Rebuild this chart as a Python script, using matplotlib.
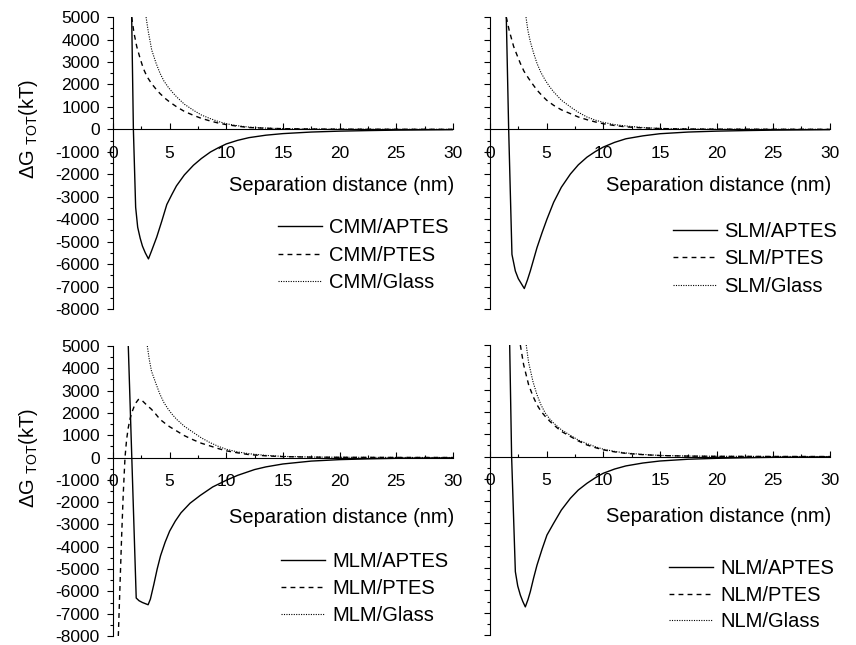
import numpy as np
import matplotlib
matplotlib.use("Agg")
import matplotlib.pyplot as plt
from matplotlib.ticker import MultipleLocator

plt.rcParams['font.family'] = ['Liberation Sans', 'DejaVu Sans']
plt.rcParams['axes.unicode_minus'] = False

# values: separation distance (nm) and total energy (kT)
cmm_aptes_d = [1.65, 1.8, 2.0, 2.18, 2.4, 2.6, 2.85, 3.13, 3.4, 3.86, 4.3, 4.75, 5.2, 5.6, 6.3, 7.1, 7.8, 8.6, 9.3, 10, 11, 12, 13.5, 15, 17.5, 20, 22.5, 25, 30]
cmm_aptes_g = [5000, 0, -3470, -4360, -4850, -5200, -5500, -5770, -5420, -4800, -4100, -3350, -2900, -2520, -2030, -1600, -1300, -1010, -820, -650, -490, -370, -260, -190, -120, -80, -55, -35, -15]
cmm_ptes_d = [1.65, 1.85, 2.1, 2.4, 2.68, 3.0, 3.4, 3.8, 4.16, 4.6, 5.0, 5.63, 6.3, 7.1, 7.8, 8.6, 9.3, 10, 11, 12, 13.5, 15, 17.5, 20, 25, 30]
cmm_ptes_g = [5000, 4300, 3680, 3150, 2710, 2350, 2040, 1790, 1590, 1380, 1220, 1000, 800, 625, 490, 370, 280, 210, 140, 80, 50, 30, 15, 8, 3, 1]
cmm_glass_d = [2.92, 3.1, 3.42, 3.8, 4.16, 4.5, 4.9, 5.3, 5.63, 6.3, 7.1, 7.8, 8.6, 9.3, 10, 11, 12, 13.5, 15, 17.5, 20, 25, 30]
cmm_glass_g = [5000, 4400, 3530, 2950, 2490, 2150, 1860, 1620, 1440, 1120, 850, 640, 475, 350, 250, 160, 100, 55, 30, 15, 8, 3, 1]

slm_aptes_d = [1.44, 1.65, 1.94, 2.24, 2.5, 2.8, 3.03, 3.3, 3.56, 3.85, 4.15, 4.6, 5.03, 5.62, 6.3, 7.1, 7.8, 8.56, 9.3, 10, 11, 12, 13.5, 15, 17.5, 20, 22.5, 25, 30]
slm_aptes_g = [5000, 0, -5570, -6310, -6650, -6900, -7090, -6720, -6310, -5800, -5270, -4600, -4000, -3250, -2580, -1990, -1580, -1240, -990, -790, -580, -420, -290, -195, -120, -80, -55, -35, -15]
slm_ptes_d = [1.44, 1.7, 2.09, 2.4, 2.68, 3.0, 3.41, 3.8, 4.15, 4.6, 5.0, 5.62, 6.3, 7.1, 7.8, 8.56, 9.3, 10, 11, 12, 13.5, 15, 17.5, 20, 25, 30]
slm_ptes_g = [5000, 4400, 3690, 3290, 2940, 2590, 2270, 1990, 1750, 1500, 1300, 1070, 870, 700, 550, 430, 330, 250, 170, 110, 65, 35, 15, 8, 3, 1]
slm_glass_d = [3.18, 3.35, 3.56, 3.85, 4.15, 4.5, 4.88, 5.25, 5.62, 6.3, 7.1, 7.8, 8.56, 9.3, 10, 11, 12, 13.5, 15, 17.5, 20, 25, 30]
slm_glass_g = [5000, 4400, 3910, 3400, 2940, 2530, 2190, 1910, 1670, 1300, 1000, 760, 550, 410, 310, 210, 150, 80, 40, 18, 8, 3, 1]

mlm_aptes_d = [1.35, 2.05, 2.3, 2.6, 3.1, 3.3, 3.6, 3.9, 4.2, 4.6, 5.0, 5.5, 6.0, 6.8, 7.7, 8.8, 10, 11, 12.5, 13.5, 15, 17.5, 20, 22.5, 25, 30]
mlm_aptes_g = [5000, -6300, -6420, -6500, -6600, -6350, -5700, -5000, -4400, -3800, -3300, -2850, -2480, -2050, -1700, -1320, -1020, -800, -540, -420, -290, -160, -95, -60, -35, -15]
mlm_ptes_d = [0.47, 0.6, 0.76, 0.9, 1.06, 1.2, 1.35, 1.5, 1.65, 1.95, 2.24, 2.45, 2.68, 3.0, 3.4, 3.8, 4.15, 4.6, 5.0, 5.62, 6.3, 7.1, 7.8, 8.56, 9.3, 10, 11, 12, 13.5, 15, 17.5, 20, 25, 30]
mlm_ptes_g = [-8000, -6000, -3570, -1700, 0, 800, 1340, 1720, 2000, 2400, 2600, 2610, 2500, 2340, 2160, 1930, 1710, 1530, 1380, 1190, 980, 790, 640, 520, 400, 300, 210, 130, 75, 40, 18, 10, 3, 1]
mlm_glass_d = [3.03, 3.2, 3.4, 3.8, 4.15, 4.5, 4.88, 5.25, 5.62, 6.3, 7.1, 7.8, 8.56, 9.3, 10, 11, 12, 13.5, 15, 17.5, 20, 25, 30]
mlm_glass_g = [5000, 4400, 3870, 3300, 2830, 2460, 2160, 1920, 1710, 1400, 1120, 880, 670, 500, 370, 250, 170, 95, 50, 22, 10, 3, 1]

nlm_aptes_d = [1.74, 1.91, 2.24, 2.45, 2.68, 2.9, 3.12, 3.35, 3.56, 3.85, 4.15, 4.6, 5.03, 5.62, 6.3, 7.1, 7.8, 8.56, 9.3, 10, 11, 12, 13.5, 15, 17.5, 20, 22.5, 25, 30]
nlm_aptes_g = [5000, 0, -5160, -5800, -6210, -6500, -6740, -6420, -6060, -5450, -4870, -4150, -3520, -2990, -2400, -1870, -1500, -1200, -950, -750, -560, -420, -290, -200, -120, -80, -55, -35, -15]
nlm_ptes_d = [2.68, 2.97, 3.41, 3.8, 4.15, 4.5, 4.88, 5.25, 5.62, 6.3, 7.1, 7.8, 8.56, 9.3, 10, 11, 12, 13.5, 15, 17.5, 20, 25, 30]
nlm_ptes_g = [5000, 4120, 3220, 2700, 2320, 2030, 1800, 1600, 1420, 1130, 900, 700, 520, 400, 300, 210, 140, 85, 45, 20, 10, 3, 1]
nlm_glass_d = [3.2, 3.41, 3.8, 4.15, 4.5, 4.88, 5.25, 5.62, 6.3, 7.1, 7.8, 8.56, 9.3, 10, 11, 12, 13.5, 15, 17.5, 20, 25, 30]
nlm_glass_g = [5000, 4220, 3350, 2770, 2320, 1950, 1700, 1500, 1200, 950, 740, 580, 440, 330, 230, 160, 95, 50, 22, 10, 3, 1]

panels = [
    ("CMM", [0.132, 0.521, 0.397, 0.4525], cmm_aptes_d, cmm_aptes_g, cmm_ptes_d, cmm_ptes_g, cmm_glass_d, cmm_glass_g, True, (0.485, 0.311), 0.422, 0.42),
    ("SLM", [0.5724, 0.521, 0.397, 0.4525], slm_aptes_d, slm_aptes_g, slm_ptes_d, slm_ptes_g, slm_glass_d, slm_glass_g, False, (0.538, 0.298), 0.422, 0.42),
    ("MLM", [0.132, 0.0140, 0.397, 0.4496], mlm_aptes_d, mlm_aptes_g, mlm_ptes_d, mlm_ptes_g, mlm_glass_d, mlm_glass_g, True, (0.494, 0.289), 0.410, 0.39),
    ("NLM", [0.5724, 0.0155, 0.397, 0.4496], nlm_aptes_d, nlm_aptes_g, nlm_ptes_d, nlm_ptes_g, nlm_glass_d, nlm_glass_g, False, (0.526, 0.261), 0.410, 0.36),
]

fig = plt.figure(figsize=(8.56, 6.45), dpi=100)

for name, rect, ad, ag, pd_, pg, gd, gg, left, leg_xy, lab_y, spacing in panels:
    ax = fig.add_axes(rect)
    ax.plot(ad, ag, color="black", lw=1.0, label=name + "/APTES")
    ax.plot(pd_, pg, color="black", lw=1.0, ls=(0, (3.5, 3)), label=name + "/PTES")
    ax.plot(gd, gg, color="black", lw=0.8, ls=(0, (1, 1.2)), label=name + "/Glass")

    ax.set_xlim(0, 30)
    ax.set_ylim(-8000, 5000)
    ax.spines['top'].set_visible(False)
    ax.spines['right'].set_visible(False)
    ax.spines['bottom'].set_position(('data', 0))
    ax.xaxis.set_major_locator(MultipleLocator(5))
    ax.xaxis.set_minor_locator(MultipleLocator(2.5))
    ax.yaxis.set_major_locator(MultipleLocator(1000))
    ax.yaxis.set_minor_locator(MultipleLocator(500))
    ax.tick_params(axis='x', which='major', direction='in', length=4, width=0.8, pad=12, labelsize=12.5)
    ax.tick_params(axis='x', which='minor', direction='in', length=2.5, width=0.8)
    ax.tick_params(axis='y', which='major', direction='out', length=4.5, width=0.8, pad=5, labelsize=12.5, labelleft=left)
    ax.tick_params(axis='y', which='minor', direction='out', length=2.5, width=0.8)

    ax.text(1.005, lab_y, "Separation distance (nm)", transform=ax.transAxes,
            ha='right', va='center', fontsize=14.5)
    if left:
        ax.text(-0.25, 0, "ΔG $\\mathregular{_{TOT}}$(kT)", transform=ax.get_yaxis_transform(),
                rotation=90, ha='center', va='center', fontsize=14.5)

    ax.legend(loc='upper left', bbox_to_anchor=leg_xy, frameon=False, fontsize=14.5,
              borderpad=0, borderaxespad=0, handlelength=2.2, handletextpad=0.35,
              labelspacing=spacing)

plt.savefig("out.png", dpi=100)
